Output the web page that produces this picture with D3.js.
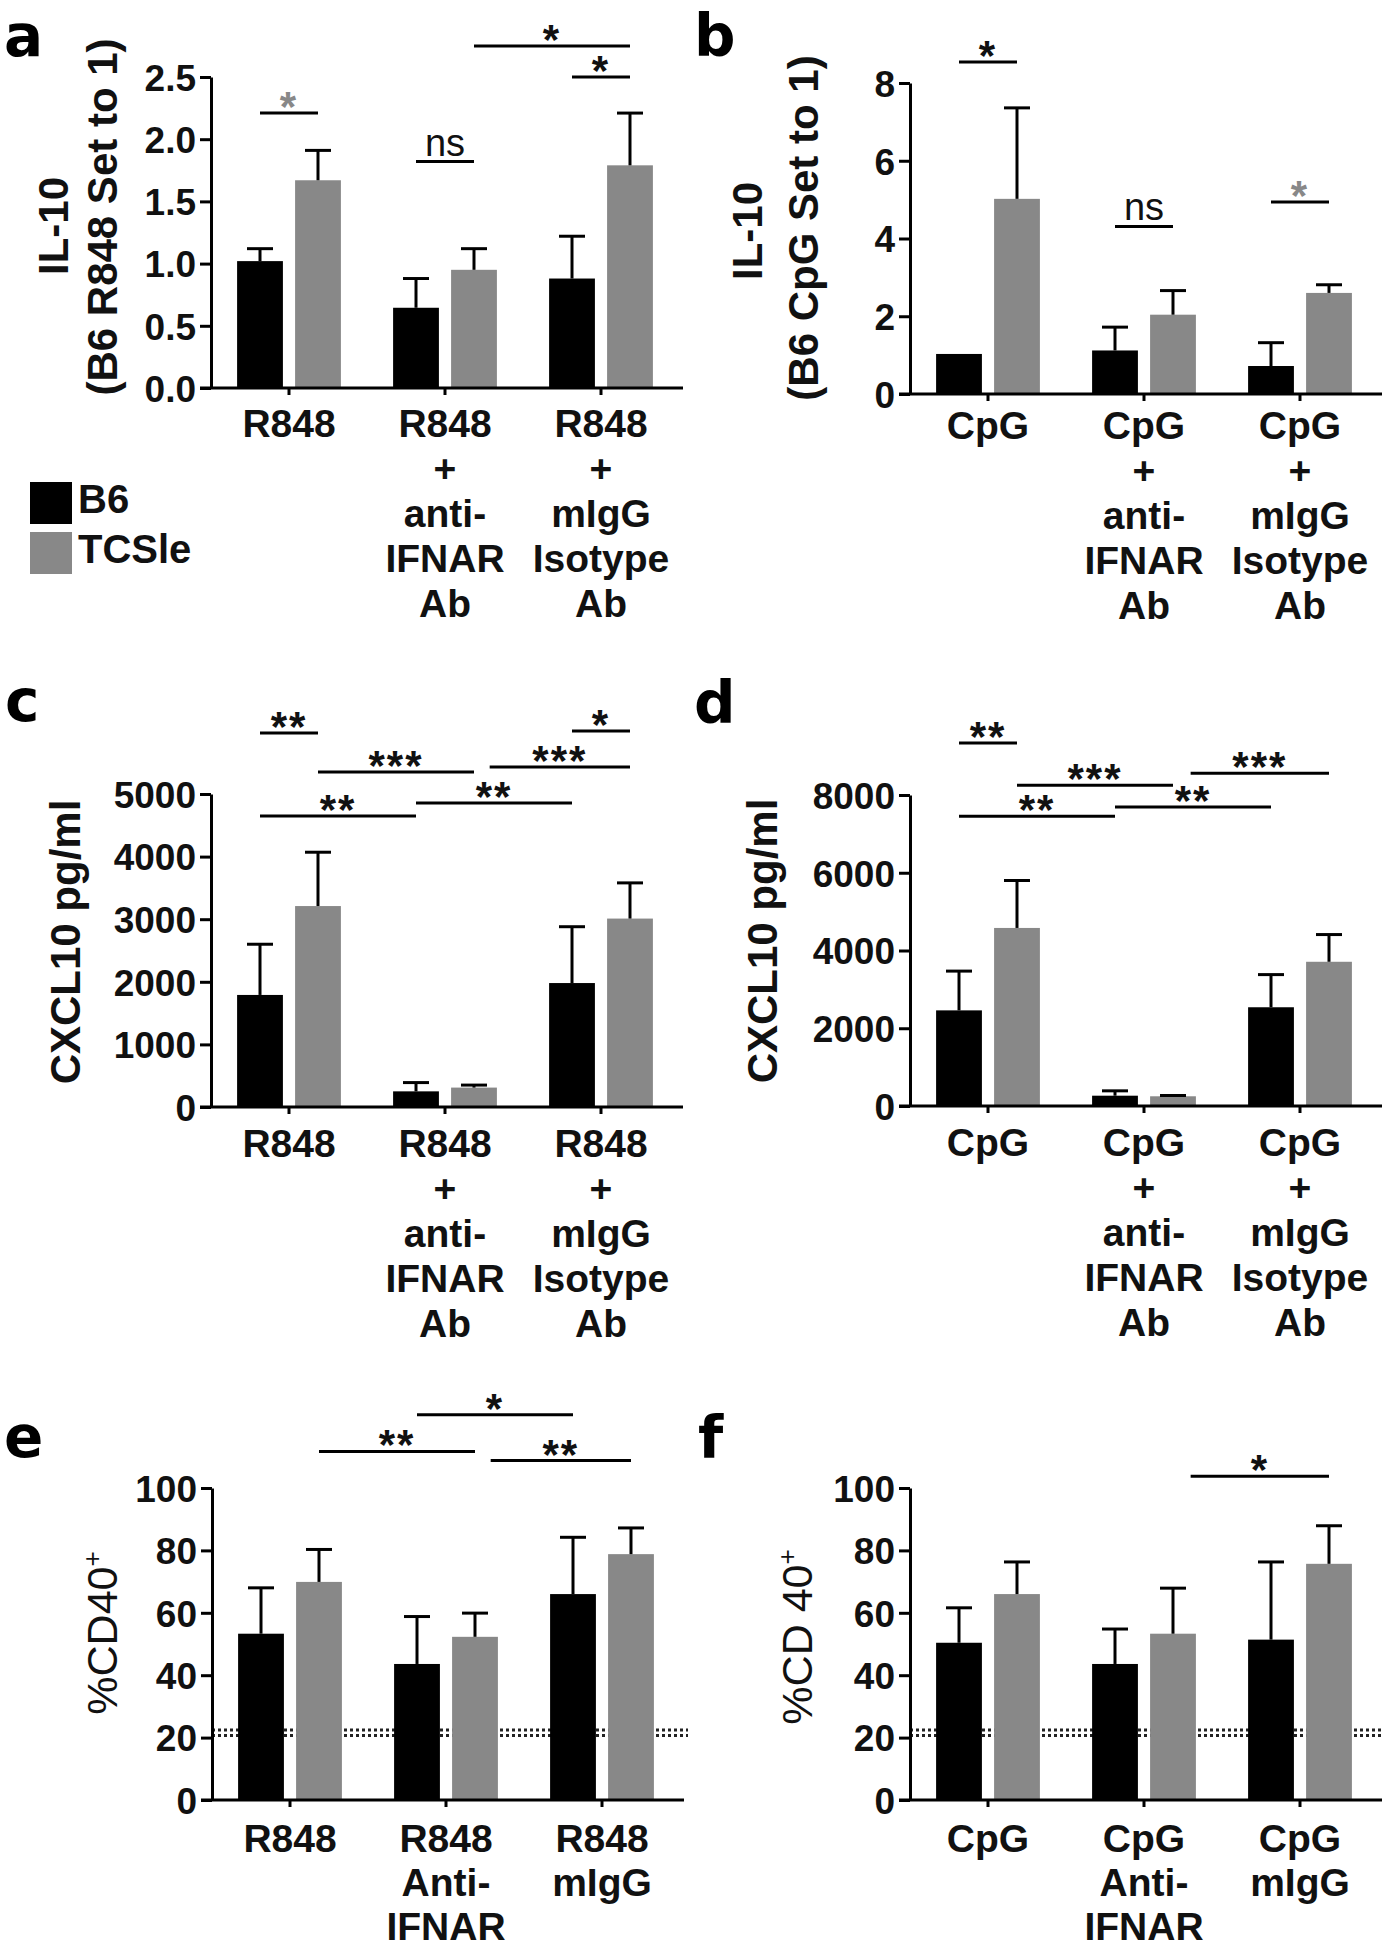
<!DOCTYPE html>
<html>
<head>
<meta charset="UTF-8">
<title>IL-10 / CXCL10 / CD40</title>
<style>
  body { margin: 0; background: #fff; }
  text { font-family: "Liberation Sans", Arial, sans-serif; fill: #111; }
  .axis text { font: bold 37px "Liberation Sans", Arial, sans-serif; fill: #111; }
  .axis path, .axis line { stroke: #000; stroke-width: 3; }
  .letter { font-family: "DejaVu Sans", sans-serif; font-weight: bold; font-size: 58px; fill: #000; }
</style>
</head>
<body>
<svg width="1384" height="1950"></svg>
<script src="https://d3js.org/d3.v7.min.js"></script>
<script>
// ---- data ----
const series = ['B6', 'TCSle'];
const colors = ['#000000', '#888888'];

const catsR848 = [['R848'], ['R848', '+', 'anti-', 'IFNAR', 'Ab'], ['R848', '+', 'mIgG', 'Isotype', 'Ab']];
const catsCpG = [['CpG'], ['CpG', '+', 'anti-', 'IFNAR', 'Ab'], ['CpG', '+', 'mIgG', 'Isotype', 'Ab']];
const catsR848Short = [['R848'], ['R848', 'Anti-', 'IFNAR'], ['R848', 'mIgG']];
const catsCpGShort = [['CpG'], ['CpG', 'Anti-', 'IFNAR'], ['CpG', 'mIgG']];

// a: IL-10, R848 (B6 R848 set to 1)
const il10R_b6 = [1.02, 0.645, 0.88];
const il10R_b6Se = [0.10, 0.235, 0.34];
const il10R_tc = [1.67, 0.95, 1.79];
const il10R_tcSe = [0.24, 0.17, 0.42];
// b: IL-10, CpG
const il10C_b6 = [1.03, 1.12, 0.72];
const il10C_b6Se = [0, 0.60, 0.60];
const il10C_tc = [5.02, 2.04, 2.60];
const il10C_tcSe = [2.34, 0.62, 0.21];
// c: CXCL10, R848
const cxR_b6 = [1790, 250, 1980];
const cxR_b6Se = [810, 140, 900];
const cxR_tc = [3210, 310, 3010];
const cxR_tcSe = [860, 40, 570];
// d: CXCL10, CpG
const cxC_b6 = [2460, 265, 2540];
const cxC_b6Se = [1010, 125, 840];
const cxC_tc = [4580, 250, 3710];
const cxC_tcSe = [1220, 20, 700];
// e: %CD40+, R848
const cdR_b6 = [53.3, 43.6, 66.0];
const cdR_b6Se = [14.7, 15.2, 18.2];
const cdR_tc = [69.9, 52.3, 78.8];
const cdR_tcSe = [10.4, 7.6, 8.4];
// f: %CD40+, CpG
const cdC_b6 = [50.4, 43.6, 51.4];
const cdC_b6Se = [11.2, 11.2, 24.9];
const cdC_tc = [66.0, 53.3, 75.7];
const cdC_tcSe = [10.3, 14.6, 12.2];
const cdBackground = [20.7, 22.4];   // dotted reference level

// significance bars: [from bar, to bar, level, label, gray?]  bar index = group*2 + series
const sigA = [[0, 1, 2.21, '*', 1], [2, 3, 1.82, 'ns', 0], [4, 5, 2.50, '*', 0], [3, 5, 2.75, '*', 0]];
const sigB = [[0, 1, 8.54, '*', 0], [2, 3, 4.31, 'ns', 0], [4, 5, 4.94, '*', 1]];
const sigC = [[0, 1, 5975, '**', 0], [4, 5, 6005, '*', 0], [1, 3, 5350, '***', 0],
              [3.16, 5, 5430, '***', 0], [0, 2, 4650, '**', 0], [2, 4, 4855, '**', 0]];
const sigD = [[0, 1, 9340, '**', 0], [1, 3, 8250, '***', 0], [3.18, 5, 8560, '***', 0],
              [0, 2, 7455, '**', 0], [2, 4, 7690, '**', 0]];
const sigE = [[2, 4, 123.5, '*', 0], [1, 3, 111.7, '**', 0], [3.16, 5, 108.8, '**', 0]];
const sigF = [[3.18, 5, 103.8, '*', 0]];

const svg = d3.select('svg');
svg.append('rect').attr('width', 1384).attr('height', 1950).attr('fill', '#fff');

const panels = [
  { letter: 'a', lx: 4, ly: 56, left: 211, top: 77, bottom: 388, max: 2.5, ticks: d3.range(0, 2.51, 0.5), fmt: '.1f',
    cats: catsR848, b6: il10R_b6, b6Se: il10R_b6Se, tc: il10R_tc, tcSe: il10R_tcSe, sig: sigA, labDy: 49, lineH: 45,
    titles: [{ t: 'IL-10', x: 68, y: 226 }, { t: '(B6 R848 Set to 1)', x: 117, y: 217 }] },
  { letter: 'b', lx: 694, ly: 56, left: 910, top: 83, bottom: 394, max: 8, ticks: [0, 2, 4, 6, 8], fmt: 'd',
    cats: catsCpG, b6: il10C_b6, b6Se: il10C_b6Se, tc: il10C_tc, tcSe: il10C_tcSe, sig: sigB, labDy: 45, lineH: 45,
    titles: [{ t: 'IL-10', x: 762, y: 231 }, { t: '(B6 CpG Set to 1)', x: 818, y: 228 }] },
  { letter: 'c', lx: 5, ly: 721, left: 211, top: 794, bottom: 1107, max: 5000, ticks: d3.range(0, 5001, 1000), fmt: 'd',
    cats: catsR848, b6: cxR_b6, b6Se: cxR_b6Se, tc: cxR_tc, tcSe: cxR_tcSe, sig: sigC, labDy: 50, lineH: 45,
    titles: [{ t: 'CXCL10 pg/ml', x: 80, y: 942 }] },
  { letter: 'd', lx: 694, ly: 723, left: 910, top: 795, bottom: 1106, max: 8000, ticks: d3.range(0, 8001, 2000), fmt: 'd',
    cats: catsCpG, b6: cxC_b6, b6Se: cxC_b6Se, tc: cxC_tc, tcSe: cxC_tcSe, sig: sigD, labDy: 50, lineH: 45,
    titles: [{ t: 'CXCL10 pg/ml', x: 777, y: 941 }] },
  { letter: 'e', lx: 4, ly: 1457, left: 212, top: 1488, bottom: 1800, max: 100, ticks: d3.range(0, 101, 20), fmt: 'd',
    cats: catsR848Short, b6: cdR_b6, b6Se: cdR_b6Se, tc: cdR_tc, tcSe: cdR_tcSe, sig: sigE, labDy: 52, lineH: 44, ref: cdBackground,
    titles: [{ t: '%CD40', sup: '+', x: 117, y: 1633, normal: true }] },
  { letter: 'f', lx: 698, ly: 1458, left: 910, top: 1488, bottom: 1800, max: 100, ticks: d3.range(0, 101, 20), fmt: 'd',
    cats: catsCpGShort, b6: cdC_b6, b6Se: cdC_b6Se, tc: cdC_tc, tcSe: cdC_tcSe, sig: sigF, labDy: 52, lineH: 44, ref: cdBackground,
    titles: [{ t: '%CD 40', sup: '+', x: 812, y: 1637, normal: true }] }
];

function drawPanel(p) {
  const g = svg.append('g');
  const x = d3.scaleBand().domain(d3.range(p.cats.length)).range([p.left, p.left + 468]);
  const xs = d3.scaleBand().domain(series).range([0, x.bandwidth()]).paddingInner(0.21).paddingOuter(0.45);
  const y = d3.scaleLinear().domain([0, p.max]).range([p.bottom, p.top]);

  const bars = [];
  p.cats.forEach((c, i) => {
    bars.push({ g: i, s: 0, v: p.b6[i], e: p.b6Se[i] });
    bars.push({ g: i, s: 1, v: p.tc[i], e: p.tcSe[i] });
  });
  const center = d => x(d.g) + xs(series[d.s]) + xs.bandwidth() / 2;
  const barX = b => {
    const k = Math.min(Math.floor(b), bars.length - 2);
    const c0 = center(bars[k]), c1 = center(bars[k + 1]);
    return c0 + (b - k) * (c1 - c0);
  };

  // dotted background level, behind the bars
  if (p.ref) {
    g.selectAll('line.ref').data(p.ref).join('line')
      .attr('class', 'ref')
      .attr('x1', p.left).attr('x2', p.left + 476)
      .attr('y1', d => y(d)).attr('y2', d => y(d))
      .attr('stroke', '#222').attr('stroke-width', 3)
      .attr('stroke-dasharray', '3,3');
  }

  g.selectAll('rect.bar').data(bars).join('rect')
    .attr('class', 'bar')
    .attr('x', d => x(d.g) + xs(series[d.s]))
    .attr('width', xs.bandwidth())
    .attr('y', d => y(d.v))
    .attr('height', d => y(0) - y(d.v))
    .attr('fill', d => colors[d.s]);

  // error bars (upper only)
  const eb = bars.filter(d => d.e > 0);
  g.selectAll('line.err').data(eb).join('line')
    .attr('class', 'err')
    .attr('x1', center).attr('x2', center)
    .attr('y1', d => y(d.v)).attr('y2', d => y(d.v + d.e))
    .attr('stroke', '#000').attr('stroke-width', 3);
  g.selectAll('line.cap').data(eb).join('line')
    .attr('class', 'cap')
    .attr('x1', d => center(d) - 13).attr('x2', d => center(d) + 13)
    .attr('y1', d => y(d.v + d.e)).attr('y2', d => y(d.v + d.e))
    .attr('stroke', '#000').attr('stroke-width', 3);

  // y axis
  const ya = g.append('g').attr('class', 'axis')
    .attr('transform', `translate(${p.left},0)`)
    .call(d3.axisLeft(y).tickValues(p.ticks).tickFormat(d3.format(p.fmt)).tickSize(11).tickSizeOuter(0).tickPadding(4));
  ya.selectAll('.tick text').attr('dy', '0.36em');

  // x axis
  const xa = g.append('g').attr('class', 'axis')
    .attr('transform', `translate(0,${y(0)})`)
    .call(d3.axisBottom(x).tickSize(7).tickFormat(''));
  xa.select('.domain').remove();
  g.append('line')
    .attr('x1', p.left - 11).attr('x2', p.left + 472)
    .attr('y1', y(0)).attr('y2', y(0))
    .attr('stroke', '#000').attr('stroke-width', 3);

  const lab = g.selectAll('text.cat').data(p.cats).join('text')
    .attr('class', 'cat')
    .attr('x', (d, i) => x(i) + x.bandwidth() / 2)
    .attr('y', y(0) + p.labDy)
    .attr('text-anchor', 'middle')
    .style('font-weight', 'bold').style('font-size', '39px');
  lab.selectAll('tspan').data(d => d).join('tspan')
    .attr('x', function () { return d3.select(this.parentNode).attr('x'); })
    .attr('dy', (d, i) => i === 0 ? 0 : p.lineH)
    .text(d => d);

  // significance
  p.sig.forEach(s => {
    const x1 = barX(s[0]), x2 = barX(s[1]), ly = y(s[2]);
    g.append('line').attr('x1', x1).attr('x2', x2).attr('y1', ly).attr('y2', ly)
      .attr('stroke', '#000').attr('stroke-width', 3);
    const t = g.append('text').attr('x', (x1 + x2) / 2).attr('text-anchor', 'middle').text(s[3]);
    if (s[3] === 'ns') {
      t.attr('y', ly - 6).style('font-size', '38px');
    } else {
      t.attr('y', ly + 8).style('font-size', '42px').style('font-weight', 'bold')
        .style('letter-spacing', '2px').style('fill', s[4] ? '#888' : '#111');
    }
  });

  // axis titles
  p.titles.forEach(tt => {
    const t = g.append('text')
      .attr('transform', `translate(${tt.x},${tt.y}) rotate(-90)`)
      .attr('text-anchor', 'middle')
      .style('font-size', tt.normal ? '43px' : '42px')
      .style('font-weight', tt.normal ? 'normal' : 'bold')
      .text(tt.t);
    if (tt.sup) t.append('tspan').attr('baseline-shift', '60%').style('font-size', '26px').text(tt.sup);
  });

  // panel letter
  svg.append('text').attr('class', 'letter').attr('x', p.lx).attr('y', p.ly).text(p.letter);
}

panels.forEach(drawPanel);

// legend (panel a)
const leg = svg.append('g').attr('transform', 'translate(30,482)');
leg.selectAll('rect').data(series).join('rect')
  .attr('x', 0).attr('y', (d, i) => i * 50)
  .attr('width', 42).attr('height', 42)
  .attr('fill', (d, i) => colors[i]);
leg.selectAll('text').data(series).join('text')
  .attr('x', 48).attr('y', (d, i) => i * 50 + 31)
  .style('font-size', '40px').style('font-weight', 'bold')
  .text(d => d);
</script>
</body>
</html>
